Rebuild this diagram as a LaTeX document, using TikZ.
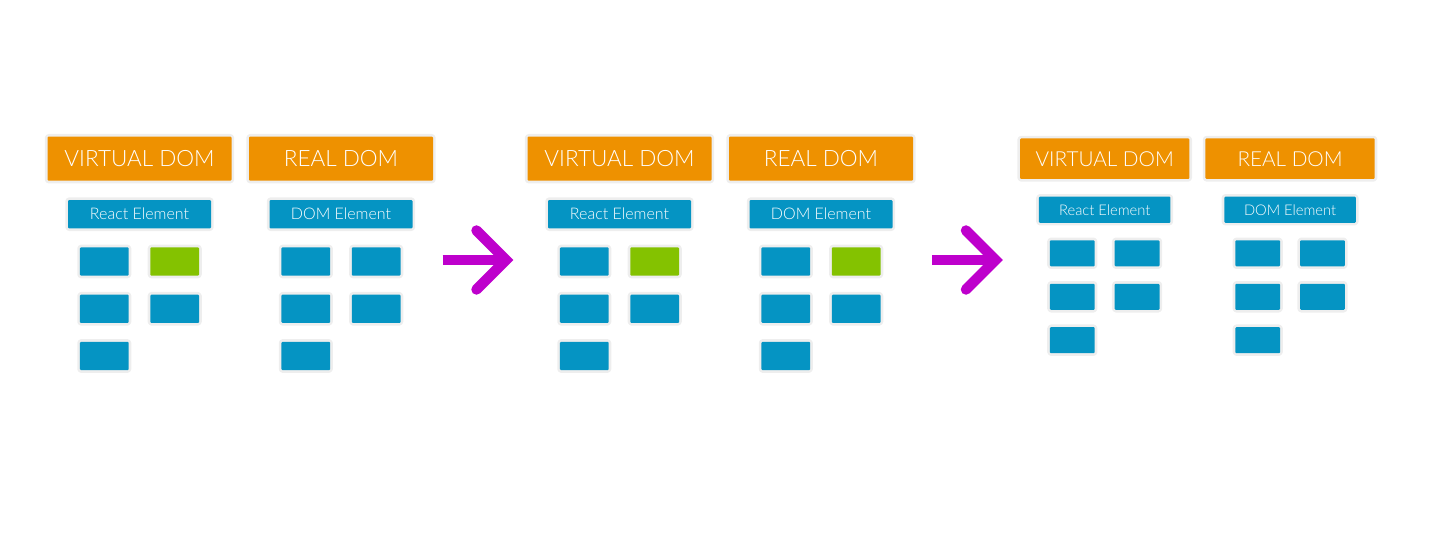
\documentclass[tikz,border=0pt]{standalone}
\usepackage{fontspec}
\setmainfont{Lato}[UprightFont=* Light]
\usetikzlibrary{positioning}
\definecolor{domorange}{HTML}{EE9100}
\definecolor{domblue}{HTML}{0594C3}
\definecolor{domgreen}{HTML}{84C200}
\definecolor{edgegray}{HTML}{EEEEEE}
\definecolor{arrowpurple}{HTML}{BE00CC}
\tikzset{
  boxedge/.style={preaction={draw=edgegray,line width=5.4pt,line join=round}},
  dombox/.style={boxedge,fill=domorange,text=white,rounded corners=1pt,minimum width=184pt,minimum height=44pt,inner sep=0pt,font=\fontsize{22.5}{22.5}\selectfont},
  elembox/.style={boxedge,fill=domblue,text=white,rounded corners=1pt,minimum width=143pt,minimum height=28.3pt,inner sep=0pt,font=\fontsize{16}{16}\selectfont},
  leaf/.style={boxedge,fill=domblue,rounded corners=1pt,minimum width=48.7pt,minimum height=28.3pt,inner sep=0pt},
  arrowbar/.style={draw=arrowpurple,line width=10.5pt},
  arrowhead/.style={draw=arrowpurple,line width=10.5pt,line cap=round,line join=miter},
}
\begin{document}
\begin{tikzpicture}[x=1pt,y=-1pt]
  \useasboundingbox (0,0) rectangle (1440,556);
  % the three states: virtual dom left, real dom right
  \foreach \g/\gx/\gs/\vc/\rc in {a/139.5/1/domgreen/domblue,b/619.5/1/domgreen/domgreen,c/1104.7/0.92/domblue/domblue}{
    \begin{scope}[shift={(\gx,158.7)},scale=\gs,transform shape]
      \node[dombox] (v\g) at (0,0) {VIRTUAL DOM};
      \node[dombox] (r\g) at (201.5,0) {REAL DOM};
      \node[elembox] (ve\g) at (0,55.5) {React Element};
      \node[elembox] (re\g) at (201.5,55.5) {DOM Element};
      \node[leaf,fill=\vc] (v\g2) at (35.2,102.8) {};
      \node[leaf,fill=\rc] (r\g2) at (236.7,102.8) {};
      \foreach \n/\lx/\ly in {1/-35.2/102.8,3/-35.2/150.1,4/35.2/150.1,5/-35.2/197.3}{
        \node[leaf] (v\g\n) at (\lx,\ly) {};
        \node[leaf] (r\g\n) at (\lx+201.5,\ly) {};
      }
    \end{scope}
  }
  % arrows between the states
  \coordinate (a1s) at (442.7,260);
  \coordinate (a1e) at (506,260);
  \coordinate (a2s) at (932,260);
  \coordinate (a2e) at (995.5,260);
  \draw[arrowbar] (a1s) -- (a1e);
  \draw[arrowhead] (a1e) ++(-29.5,-29.5) -- (a1e) -- ++(-29.5,29.5);
  \draw[arrowbar] (a2s) -- (a2e);
  \draw[arrowhead] (a2e) ++(-29.5,-29.5) -- (a2e) -- ++(-29.5,29.5);
\end{tikzpicture}
\end{document}
